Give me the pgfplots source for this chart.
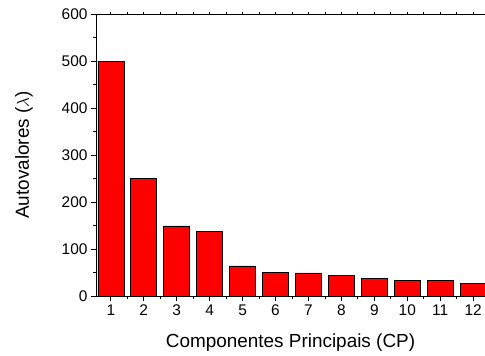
\documentclass[border=0pt]{standalone}
\usepackage{fontspec}
\setmainfont{Liberation Sans}
\usepackage{pgfplots}
\pgfplotsset{compat=1.18}
\begin{document}
\begin{tikzpicture}
\pgfplotsset{
  common/.style={
    scale only axis,
    width=389bp, height=282bp,
    xmin=0.55, xmax=12.36,
    ymin=0, ymax=600,
  }
}
\begin{axis}[
  common,
  axis x line*=bottom,
  axis y line*=left,
  axis line style={line width=0.8pt},
  tick align=outside,
  major tick length=5bp,
  minor tick length=3bp,
  tick style={line width=0.8pt, black},
  xtick={1,...,12},
  minor xtick={0.5,1.5,...,12.5},
  ytick={0,100,...,600},
  minor ytick={50,150,...,550},
  /pgf/number format/assume math mode=true,
  ticklabel style={font=\fontsize{15.5}{18}\selectfont},
  xlabel={Componentes Principais (CP)},
  ylabel={Autovalores ($\lambda$)},
  label style={font=\fontsize{19}{22}\selectfont},
  xlabel style={at={(axis description cs:0.5,-0.1667)}, anchor=center},
  ylabel style={at={(axis description cs:-0.185,0.5)}, anchor=center},
  clip=true,
]
\addplot[ybar, bar width=0.79, fill=red, draw=black, line width=0.6pt]
  coordinates {(1,500) (2,250) (3,149) (4,138) (5,64) (6,50) (7,49) (8,44) (9,37) (10,33.5) (11,33) (12,27)};
\end{axis}
\begin{axis}[
  common,
  axis x line*=top,
  axis y line=none,
  axis line style={line width=0.8pt},
  tick align=outside,
  major tick length=2bp,
  tick style={line width=0.8pt, black},
  xtick={0.5,1,...,12.5},
  xticklabels={},
]
\end{axis}
\pgfresetboundingbox
\path[use as bounding box] ([shift={(-96bp,-60bp)}]current axis.south west) rectangle ([shift={(0bp,14bp)}]current axis.north east);
\end{tikzpicture}
\end{document}
